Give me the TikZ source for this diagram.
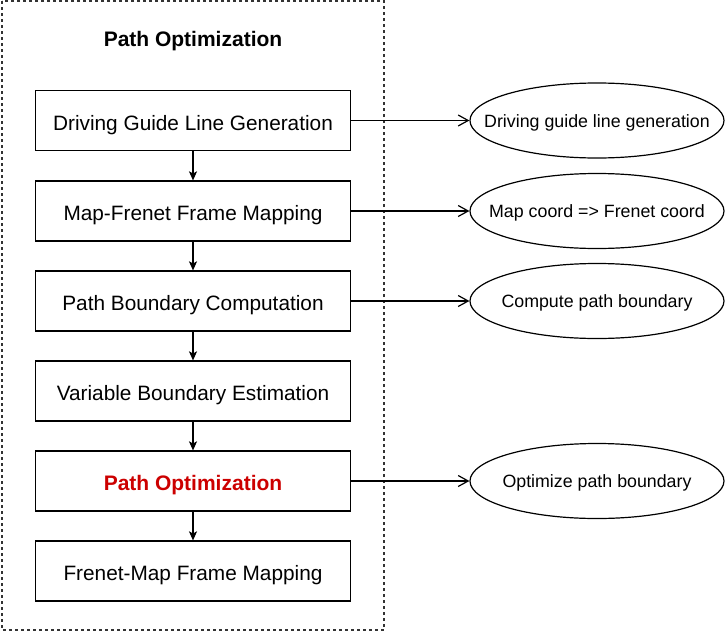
\documentclass[tikz,border=0pt]{standalone}
\usepackage{fontspec}
\setmainfont{Liberation Sans}
\usetikzlibrary{shapes.geometric,arrows.meta}
\definecolor{optred}{HTML}{CC0000}
\begin{document}
\begin{tikzpicture}[x=1pt,y=-1pt,line width=1.2pt,
  stage/.style={draw,minimum width=315pt,minimum height=60pt,inner sep=0pt,
    text height=22pt,text depth=3pt,font=\fontsize{20.8}{24}\selectfont},
  result/.style={draw,ellipse,minimum width=254pt,minimum height=75pt,
    inner xsep=-25pt,inner ysep=0pt,text height=14pt,text depth=1pt,
    font=\fontsize{17.8}{21}\selectfont},
  down/.style={-{Stealth[length=9pt,width=8pt,inset=2pt]}},
  side/.style={-{Straight Barb[length=10pt,width=11pt]}}]
  \useasboundingbox (0,0) rectangle (726,632);
  \path[draw=black!80,dash pattern=on 3pt off 3pt] (2,1) rectangle (384,630);
  \node[font=\fontsize{21}{24}\selectfont\bfseries] (title) at (193,41) {Path Optimization};
  % stages
  \node[stage] (guide) at (193,120.5) {Driving Guide Line Generation};
  \node[stage] (mapfre) at (193,211) {Map-Frenet Frame Mapping};
  \node[stage] (bound) at (193,301) {Path Boundary Computation};
  \node[stage] (varb) at (193,391) {Variable Boundary Estimation};
  \node[stage,text=optred,font=\fontsize{21}{24}\selectfont\bfseries] (opt) at (193,481) {Path Optimization};
  \node[stage] (fremap) at (193,571) {Frenet-Map Frame Mapping};
  % results
  \node[result] (guideres) at (597,120.5) {Driving guide line generation};
  \node[result] (mapfreres) at (597,211) {Map coord => Frenet coord};
  \node[result] (boundres) at (597,301) {Compute path boundary};
  \node[result] (optres) at (597,481) {Optimize path boundary};
  \draw[down] (guide) -- (mapfre);
  \draw[down] (mapfre) -- (bound);
  \draw[down] (bound) -- (varb);
  \draw[down] (varb) -- (opt);
  \draw[down] (opt) -- (fremap);
  \draw[side] (guide) -- (guideres);
  \draw[side] (mapfre) -- (mapfreres);
  \draw[side] (bound) -- (boundres);
  \draw[side] (opt) -- (optres);
\end{tikzpicture}
\end{document}
